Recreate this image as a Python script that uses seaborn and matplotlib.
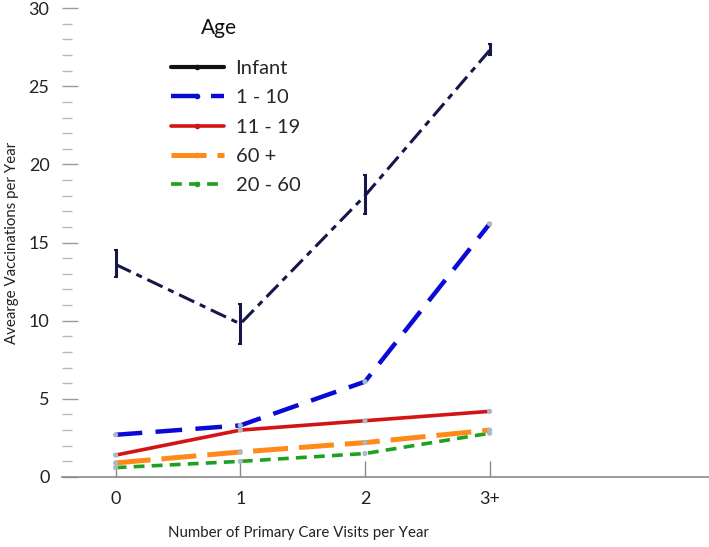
import matplotlib
matplotlib.use("Agg")
import matplotlib.pyplot as plt
import seaborn as sns
import pandas as pd
from matplotlib.ticker import MultipleLocator
from matplotlib.lines import Line2D

# data
visits = ["0", "1", "2", "3+"]
infant = [13.6, 9.8, 18.0, 27.3]
infant_low = [12.8, 8.5, 16.8, 27.0]
infant_high = [14.5, 11.1, 19.3, 27.7]
age_1_10 = [2.7, 3.3, 6.1, 16.2]
age_11_19 = [1.4, 3.0, 3.6, 4.2]
age_60_plus = [0.9, 1.6, 2.2, 3.0]
age_20_60 = [0.6, 1.0, 1.5, 2.8]

groups = ["Infant", "1 - 10", "11 - 19", "60 +", "20 - 60"]

sns.set_style("white")
plt.rcParams["font.family"] = ["Lato", "DejaVu Sans"]

fig = plt.figure(figsize=(7.09, 5.47), dpi=100)
ax = fig.add_axes([0.0875, 0.128, 0.9125, 0.857])

# x positions come from the category index
xpos = list(range(len(visits)))

# series styles: colour, linewidth, dash pattern
styles = {
    "Infant": ("#16164a", 2.2, (0, (5.5, 2, 2, 2))),
    "1 - 10": ("#0a0ad6", 3.2, (0, (6, 3))),
    "11 - 19": ("#d41414", 2.6, "-"),
    "60 +": ("#ff8a1a", 3.6, (0, (7, 2.2))),
    "20 - 60": ("#20a020", 2.6, (0, (3, 2))),
}
series = {
    "1 - 10": age_1_10,
    "11 - 19": age_11_19,
    "60 +": age_60_plus,
    "20 - 60": age_20_60,
    "Infant": infant,
}

for name in ["20 - 60", "60 +", "11 - 19", "1 - 10", "Infant"]:
    col, lw, ls = styles[name]
    df = pd.DataFrame({"x": xpos, "y": series[name]})
    sns.lineplot(data=df, x="x", y="y", ax=ax, color=col, linewidth=lw,
                 linestyle=ls, legend=False)
    if name != "Infant":
        ax.scatter(xpos, series[name], s=14, color="#a8b8c4", zorder=3,
                   edgecolor="none")

# infant error bars
yerr = [[m - l for m, l in zip(infant, infant_low)],
        [h - m for m, h in zip(infant, infant_high)]]
ax.errorbar(xpos, infant, yerr=yerr, fmt="none", ecolor="#16164a",
            elinewidth=2.2, capsize=1.5, capthick=1.5, zorder=4)

ax.set_xlim(-0.43, 4.76)
ax.set_ylim(0, 30)
ax.set_xticks(xpos)
ax.set_xticklabels(visits)
ax.yaxis.set_major_locator(MultipleLocator(5))
ax.yaxis.set_minor_locator(MultipleLocator(1))

for s in ["top", "right", "left"]:
    ax.spines[s].set_visible(False)
ax.spines["bottom"].set_color("#8a8a8a")
ax.spines["bottom"].set_linewidth(1.2)

ax.tick_params(axis="y", which="major", direction="in", length=11.5,
               width=1.0, color="#9a9a9a", pad=9, labelsize=13,
               left=True, labelcolor="#222222")
ax.tick_params(axis="y", which="minor", direction="in", length=7,
               width=1.0, color="#b8b8b8", left=True)
ax.tick_params(axis="x", direction="in", length=11.5, width=1.0,
               color="#8a8a8a", pad=10, labelsize=13, bottom=True,
               labelcolor="#222222")

ax.set_xlabel("Number of Primary Care Visits per Year", fontsize=10.8,
              color="#222222")
ax.xaxis.set_label_coords(0.366, -0.105)
ax.set_ylabel("Avearge Vaccinations per Year", fontsize=10.8, color="#222222")
ax.yaxis.set_label_coords(-0.066, 0.5)

handles = []
for name in groups:
    col, lw, ls = styles[name]
    if name == "Infant":
        col, ls, lw = "#111111", "-", 3
    handles.append(Line2D([0], [0], color=col, linewidth=lw, linestyle=ls,
                          marker="o", markersize=3))
leg = ax.legend(handles, groups, loc="upper left",
                bbox_to_anchor=(0.15, 0.915), frameon=False, fontsize=14.5,
                handlelength=2.6, labelspacing=0.6,
                handletextpad=0.6, borderaxespad=0.2)
ax.text(0.243, 0.957, "Age", transform=ax.transAxes, fontsize=15,
        ha="center", va="center", color="#111111")

plt.savefig("out.png", dpi=100)
